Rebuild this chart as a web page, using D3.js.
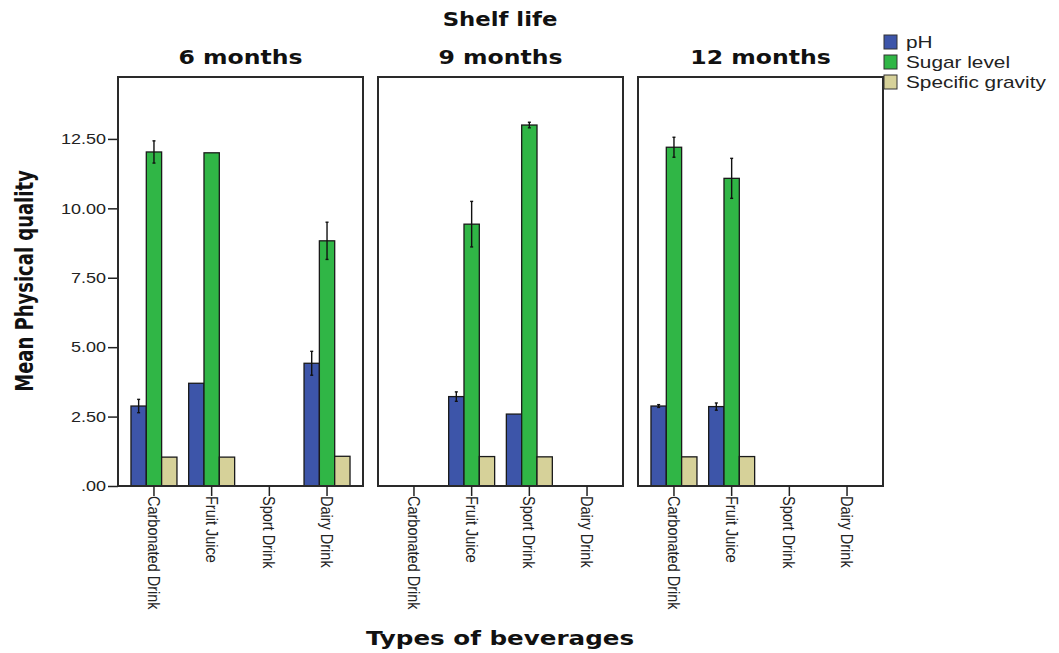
<!DOCTYPE html>
<html>
<head>
<meta charset="utf-8">
<script src="https://cdn.jsdelivr.net/npm/d3@7"></script>
<style>
  html, body { margin: 0; padding: 0; background: #fff; }
  svg { display: block; }
</style>
</head>
<body>
<svg id="chart" width="1059" height="653"></svg>
<script>
// Beverage types on the x axis of every panel
const categories = ["Carbonated Drink", "Fruit Juice", "Sport Drink", "Dairy Drink"];
// One panel per shelf-life period
const shelfLife = ["6 months", "9 months", "12 months"];
// Measured quantities (bar series)
const seriesNames = ["pH", "Sugar level", "Specific gravity"];
const yTicks = [0, 2.5, 5, 7.5, 10, 12.5];

// Means per panel (rows) and beverage (columns); null = no data
const phMean = [
  [2.88, 3.70, null, 4.42],
  [null, 3.22, 2.59, null],
  [2.88, 2.86, null, null]
];
const sugarMean = [
  [12.03, 12.00, null, 8.83],
  [null, 9.43, 13.00, null],
  [12.20, 11.08, null, null]
];
const gravityMean = [
  [1.04, 1.04, null, 1.07],
  [null, 1.06, 1.05, null],
  [1.05, 1.06, null, null]
];
// Error-bar half widths
const phErr = [
  [0.24, 0, null, 0.43],
  [null, 0.17, 0, null],
  [0.05, 0.13, null, null]
];
const sugarErr = [
  [0.40, 0, null, 0.67],
  [null, 0.82, 0.10, null],
  [0.36, 0.72, null, null]
];
const gravityErr = [
  [0, 0, null, 0],
  [null, 0, 0, null],
  [0, 0, null, null]
];

const seriesColors = ["#3d55a9", "#30b646", "#d6d199"];
const means = [phMean, sugarMean, gravityMean];
const errs = [phErr, sugarErr, gravityErr];

const svg = d3.select("#chart");

const panelTop = 77, panelBottom = 486;
const panelWidth = 245, panelGap = 15, firstLeft = 118;

const y = d3.scaleLinear().domain([0, 14.73]).range([panelBottom, panelTop]);

const fmt = v => d3.format(".2f")(v).replace(/^0\./, ".");

const boldWide = "'DejaVu Sans', Verdana, sans-serif";
const plain = "'Liberation Sans', Arial, sans-serif";

// Centered bold heading, widened horizontally
function heading(cx, cy, txt, size, sx) {
  return svg.append("text")
    .attr("transform", `translate(${cx},${cy}) scale(${sx},1)`)
    .attr("text-anchor", "middle")
    .style("font-family", boldWide)
    .style("font-weight", "bold").style("font-size", size + "px")
    .attr("fill", "#111")
    .text(txt);
}

heading(500, 26, "Shelf life", 19, 1.2);
heading(500, 645, "Types of beverages", 20, 1.23);

svg.append("text")
  .attr("transform", "translate(33,281) rotate(-90) scale(1,1.25)")
  .attr("text-anchor", "middle")
  .style("font-family", "'Liberation Sans Narrow', 'DejaVu Sans Condensed', Arial, sans-serif")
  .style("font-weight", "bold").style("font-size", "20px")
  .attr("fill", "#111")
  .text("Mean Physical quality");

// Y axis on the first panel
const yAxis = d3.axisLeft(y).tickValues(yTicks).tickFormat(fmt).tickSize(10).tickPadding(2);
const gy = svg.append("g")
  .attr("transform", `translate(${firstLeft},0)`)
  .call(yAxis);
gy.select(".domain").remove();
gy.selectAll("line").attr("stroke", "#222").attr("stroke-width", 1.5);
gy.selectAll(".tick text")
  .style("font-family", plain)
  .style("font-size", "15px")
  .attr("fill", "#222")
  .attr("x", null)
  .attr("transform", "translate(-12,0) scale(1.2,1)");

shelfLife.forEach((label, p) => {
  const left = firstLeft + p * (panelWidth + panelGap);
  const x = d3.scaleBand()
    .domain(categories)
    .range([left, left + panelWidth])
    .paddingInner(0.203)
    .paddingOuter(0.225);
  const xs = d3.scaleBand()
    .domain(seriesNames)
    .range([0, x.bandwidth()]);

  const g = svg.append("g");

  // Panel title
  heading(left + panelWidth / 2, 64, label, 19, 1.24);

  // Bars
  categories.forEach((cat, c) => {
    seriesNames.forEach((s, k) => {
      const v = means[k][p][c];
      if (v == null) return;
      g.append("rect")
        .attr("x", x(cat) + xs(s))
        .attr("y", y(v))
        .attr("width", xs.bandwidth())
        .attr("height", y(0) - y(v))
        .attr("fill", seriesColors[k])
        .attr("stroke", "#1a1a1a")
        .attr("stroke-width", 1.3);
    });
  });

  // Error bars
  categories.forEach((cat, c) => {
    seriesNames.forEach((s, k) => {
      const v = means[k][p][c];
      const e = errs[k][p][c];
      if (v == null || !e) return;
      const cx = x(cat) + xs(s) + xs.bandwidth() / 2;
      const eg = g.append("g").attr("stroke", "#111").attr("stroke-width", 1.4);
      eg.append("line").attr("x1", cx).attr("x2", cx).attr("y1", y(v - e)).attr("y2", y(v + e));
      eg.append("line").attr("x1", cx - 1.5).attr("x2", cx + 1.5).attr("y1", y(v + e)).attr("y2", y(v + e));
      eg.append("line").attr("x1", cx - 1.5).attr("x2", cx + 1.5).attr("y1", y(v - e)).attr("y2", y(v - e));
    });
  });

  // Panel frame
  g.append("rect")
    .attr("x", left).attr("y", panelTop)
    .attr("width", panelWidth).attr("height", panelBottom - panelTop)
    .attr("fill", "none")
    .attr("stroke", "#2a2a2a")
    .attr("stroke-width", 2);

  // Category axis
  const xAxis = d3.axisBottom(x).tickSize(10).tickPadding(0).tickSizeOuter(0);
  const gx = g.append("g")
    .attr("transform", `translate(0,${panelBottom})`)
    .call(xAxis);
  gx.select(".domain").remove();
  gx.selectAll("line").attr("stroke", "#222").attr("stroke-width", 1.5);
  gx.selectAll(".tick text")
    .style("font-family", plain)
    .style("font-size", "14.5px")
    .attr("fill", "#222")
    .attr("text-anchor", "start")
    .attr("x", 0)
    .attr("y", 0)
    .attr("dy", "0.35em")
    .attr("transform", "translate(0,10) rotate(90) scale(1,1.15)");
});

// Legend
const legend = svg.append("g").attr("transform", "translate(884,35)");
seriesNames.forEach((s, k) => {
  const row = legend.append("g").attr("transform", `translate(0,${k * 20})`);
  row.append("rect")
    .attr("width", 13).attr("height", 14)
    .attr("fill", seriesColors[k])
    .attr("stroke", "#333").attr("stroke-width", 1);
  row.append("text")
    .attr("transform", "translate(22,13) scale(1.3,1)")
    .style("font-family", plain)
    .style("font-size", "16px")
    .attr("fill", "#222")
    .text(s);
});
</script>
</body>
</html>
